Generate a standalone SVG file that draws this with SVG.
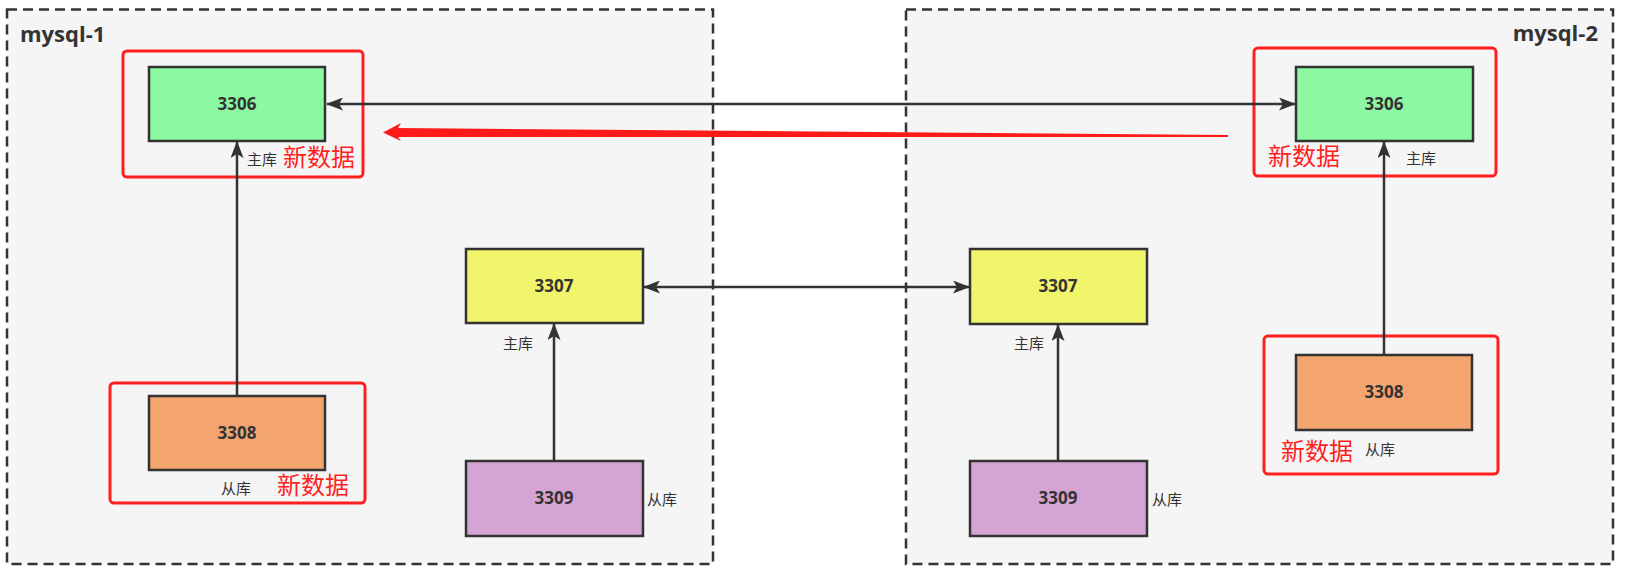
<svg xmlns="http://www.w3.org/2000/svg" width="1635" height="574" viewBox="0 0 1635 574">
<style>
.cont{fill:#f5f5f5;stroke:#333;stroke-width:2.5;stroke-dasharray:10 6}
.node{stroke:#333;stroke-width:2.5}
.num{font-family:"Open Sans","Noto Sans",sans-serif;font-weight:bold;font-size:17px;fill:#333;text-anchor:middle}
.title{font-family:"Open Sans","Noto Sans",sans-serif;font-weight:bold;font-size:22px;fill:#333}
.lbl{font-family:"Noto Sans CJK SC",sans-serif;font-size:15px;fill:#333}
.red{font-family:"Noto Sans CJK SC",sans-serif;font-size:24px;fill:#ff1f1f}
.hl{fill:none;stroke:#ff1f1f;stroke-width:3}
.edge{stroke:#333;stroke-width:2.5;fill:none}
</style>
<defs>
<marker id="ah" markerUnits="userSpaceOnUse" markerWidth="17" markerHeight="13" refX="16" refY="6.5" orient="auto-start-reverse">
<path d="M0,0 L17,6.5 L0,13 L4,6.5 Z" fill="#333"/>
</marker>
</defs>
<g id="mysql-1">
<rect class="cont" x="7" y="9.5" width="706" height="554.5"/>
<text class="title" x="20" y="42">mysql-1</text>
</g>
<g id="mysql-2">
<rect class="cont" x="906" y="9.5" width="707" height="554.5"/>
<text class="title" x="1598" y="41" text-anchor="end">mysql-2</text>
</g>
<g id="highlights">
<rect class="hl" x="123" y="51" width="240" height="126" rx="4"/>
<rect class="hl" x="110" y="383" width="255" height="120" rx="4"/>
<rect class="hl" x="1254" y="48" width="242" height="128" rx="4"/>
<rect class="hl" x="1264" y="336" width="234" height="138" rx="4"/>
</g>
<g id="connectors">
<line class="edge" x1="327" y1="104" x2="1295" y2="104" marker-start="url(#ah)" marker-end="url(#ah)"/>
<line class="edge" x1="644" y1="287" x2="969" y2="287" marker-start="url(#ah)" marker-end="url(#ah)"/>
<line class="edge" x1="237" y1="396" x2="237" y2="142" marker-end="url(#ah)"/>
<line class="edge" x1="554" y1="461" x2="554" y2="324" marker-end="url(#ah)"/>
<line class="edge" x1="1058" y1="461" x2="1058" y2="325" marker-end="url(#ah)"/>
<line class="edge" x1="1384" y1="355" x2="1384" y2="142" marker-end="url(#ah)"/>
<path d="M1228,135 L1228,137 L398,137 L401,141 L383,132.5 L401,123 L398,128 Z" fill="#ff1a1a"/>
</g>
<g id="n3306-1">
<rect class="node" x="149" y="67" width="176" height="74" fill="#8cf8a2"/>
<text class="num" x="237" y="110">3306</text>
<text class="lbl" x="247" y="165">主库</text>
<text class="red" x="283" y="166">新数据</text>
</g>
<g id="n3308-1">
<rect class="node" x="149" y="396" width="176" height="74" fill="#f4a46f"/>
<text class="num" x="237" y="439">3308</text>
<text class="lbl" x="221" y="494">从库</text>
<text class="red" x="277" y="494">新数据</text>
</g>
<g id="n3307-1">
<rect class="node" x="466" y="249" width="177" height="74" fill="#f1f56b"/>
<text class="num" x="554" y="292">3307</text>
<text class="lbl" x="503" y="349">主库</text>
</g>
<g id="n3309-1">
<rect class="node" x="466" y="461" width="177" height="75" fill="#d6a3d5"/>
<text class="num" x="554" y="504">3309</text>
<text class="lbl" x="647" y="505">从库</text>
</g>
<g id="n3306-2">
<rect class="node" x="1296" y="67" width="177" height="74" fill="#8cf8a2"/>
<text class="num" x="1384" y="110">3306</text>
<text class="red" x="1268" y="165">新数据</text>
<text class="lbl" x="1406" y="164">主库</text>
</g>
<g id="n3308-2">
<rect class="node" x="1296" y="355" width="176" height="75" fill="#f4a46f"/>
<text class="num" x="1384" y="398">3308</text>
<text class="red" x="1281" y="460">新数据</text>
<text class="lbl" x="1365" y="455">从库</text>
</g>
<g id="n3307-2">
<rect class="node" x="970" y="249" width="177" height="75" fill="#f1f56b"/>
<text class="num" x="1058" y="292">3307</text>
<text class="lbl" x="1014" y="349">主库</text>
</g>
<g id="n3309-2">
<rect class="node" x="970" y="461" width="177" height="75" fill="#d6a3d5"/>
<text class="num" x="1058" y="504">3309</text>
<text class="lbl" x="1152" y="505">从库</text>
</g>
</svg>
